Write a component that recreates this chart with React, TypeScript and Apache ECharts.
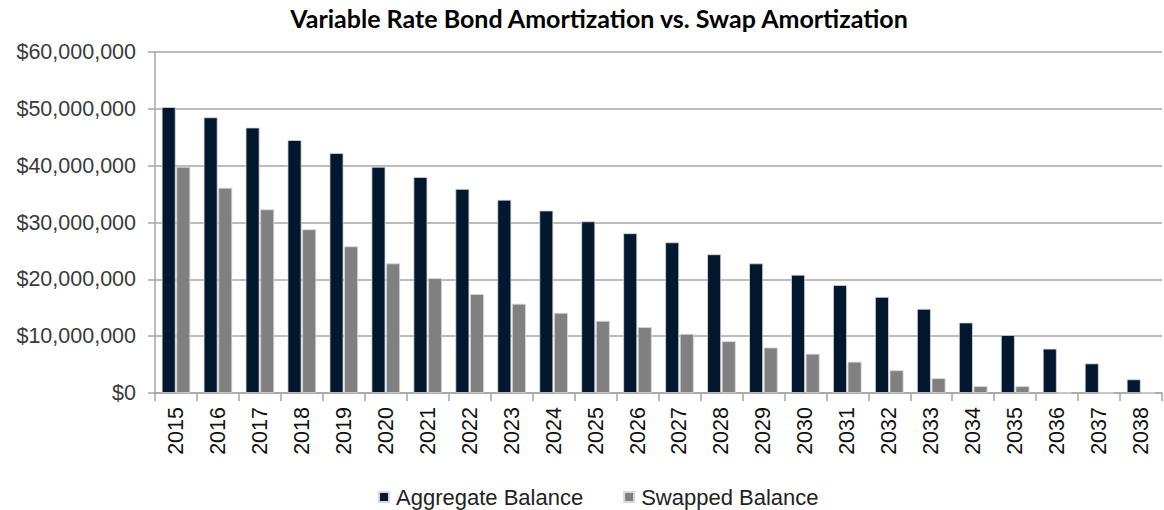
import React, { useEffect, useRef } from "react";
import * as echarts from "echarts";

const years = ["2015","2016","2017","2018","2019","2020","2021","2022","2023","2024","2025","2026","2027","2028","2029","2030","2031","2032","2033","2034","2035","2036","2037","2038"];
const aggregateBalance = [50300000,48500000,46700000,44500000,42200000,39800000,38000000,35900000,34000000,32100000,30200000,28100000,26500000,24400000,22800000,20800000,19000000,16900000,14800000,12400000,10200000,7800000,5200000,2400000];
const swappedBalance = [39800000,36100000,32300000,28800000,25800000,22800000,20200000,17400000,15700000,14100000,12700000,11600000,10400000,9100000,8000000,6900000,5500000,4000000,2600000,1200000,1200000,0,0,0];
const titleText = "Variable Rate Bond Amortization vs. Swap Amortization";
const seriesNames = ["Aggregate Balance", "Swapped Balance"];

function fmt(v: number) {
  return "$" + v.toLocaleString("en-US");
}

export default function App() {
  const ref = useRef<HTMLDivElement>(null);
  useEffect(() => {
    if (!ref.current) return;
    const chart = echarts.init(ref.current, null, { renderer: "svg" });
    chart.setOption({
      animation: false,
      backgroundColor: "#ffffff",
      title: {
        text: titleText,
        left: 594,
        textAlign: "center",
        top: 0,
        textStyle: { fontFamily: "Lato", fontWeight: "bold", fontSize: 25, color: "#000000" },
      },
      legend: {
        top: 485,
        left: 378,
        padding: 0,
        itemWidth: 10,
        itemHeight: 10,
        itemGap: 40,
        icon: "rect",
        textStyle: { fontFamily: "Liberation Sans", fontSize: 22, lineHeight: 24, color: "#222222", padding: [0, 0, 0, 2] },
        data: seriesNames,
      },
      grid: { left: 155, right: 2, top: 52, bottom: 117, containLabel: false },
      xAxis: {
        type: "category",
        data: years,
        axisLine: { show: true, lineStyle: { color: "#a6a6a6", width: 1.5 } },
        axisTick: { show: true, length: 8, lineStyle: { color: "#a6a6a6", width: 1.5 } },
        axisLabel: {
          rotate: 90,
          margin: 14,
          fontFamily: "Liberation Sans",
          fontSize: 21.5,
          color: "#111111",
        },
      },
      yAxis: {
        type: "value",
        min: 0,
        max: 60000000,
        interval: 10000000,
        axisLine: { show: true, lineStyle: { color: "#a6a6a6", width: 1.5 } },
        axisTick: { show: true, length: 7, lineStyle: { color: "#a6a6a6", width: 1.5 } },
        splitLine: { lineStyle: { color: "#a6a6a6", width: 1.5 } },
        axisLabel: {
          formatter: (v: number) => fmt(v),
          margin: 19,
          fontFamily: "Liberation Sans",
          fontSize: 21.5,
          color: "#3a3a3a",
        },
      },
      series: [
        {
          name: seriesNames[0],
          type: "bar",
          data: aggregateBalance,
          barGap: "5%",
          barCategoryGap: "32%",
          itemStyle: { color: "#03172f", borderColor: "#d8d8d8", borderWidth: 0.8 },
        },
        {
          name: seriesNames[1],
          type: "bar",
          data: swappedBalance,
          itemStyle: { color: "#808080", borderColor: "#d8d8d8", borderWidth: 0.8 },
        },
      ],
    });
    return () => chart.dispose();
  }, []);
  return <div ref={ref} style={{ width: 1164, height: 510, position: "absolute", left: 0, top: 0 }} />;
}
